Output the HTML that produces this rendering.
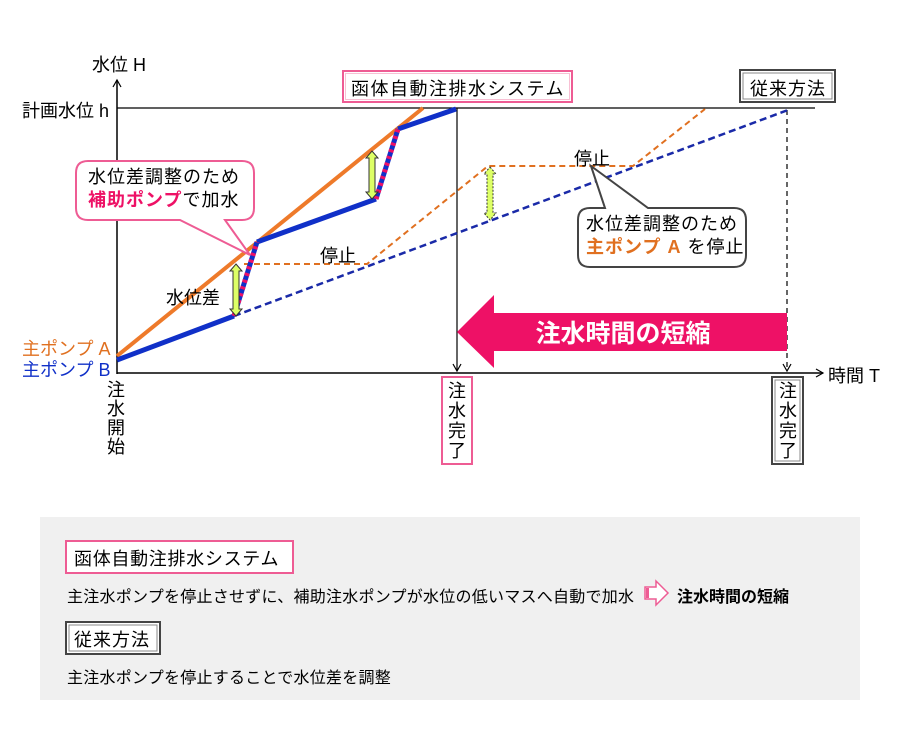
<!DOCTYPE html>
<html><head><meta charset="utf-8"><style>
body{margin:0;width:900px;height:735px;background:#fff;font-family:"Liberation Sans","Noto Sans CJK JP",sans-serif;position:relative;overflow:hidden}
.a{position:absolute;white-space:nowrap;color:#000}
</style></head><body>
<svg width="900" height="735" style="position:absolute;left:0;top:0" font-family="Liberation Sans, Noto Sans CJK JP, sans-serif">
<defs>
<marker id="ar" markerWidth="10" markerHeight="10" refX="8" refY="5" orient="auto" markerUnits="userSpaceOnUse"><path d="M1,1 L8,5 L1,9" fill="none" stroke="#000" stroke-width="1.2"/></marker>
</defs>
<rect x="40" y="517" width="820" height="183" fill="#f0f0f0"/>
<line x1="117" y1="374" x2="117" y2="80" stroke="#000" stroke-width="1.5" marker-end="url(#ar)"/>
<line x1="117" y1="373" x2="823" y2="373" stroke="#000" stroke-width="1.5" marker-end="url(#ar)"/>
<line x1="117" y1="108" x2="815" y2="108" stroke="#000" stroke-width="1.2"/>
<line x1="457" y1="108" x2="457" y2="371" stroke="#000" stroke-width="1.2" marker-end="url(#ar)"/>
<line x1="787" y1="110" x2="787" y2="371" stroke="#000" stroke-width="1.2" stroke-dasharray="5,4" marker-end="url(#ar)"/>
<polygon points="457,332 494,295 494,313 787,313 787,351 494,351 494,368" fill="#ee1166"/>
<text x="623" y="342" font-size="25" font-weight="bold" fill="#fff" text-anchor="middle">注水時間の短縮</text>
<polyline points="244,264 367,264 488,166 633,166 705,109" fill="none" stroke="#e07020" stroke-width="2" stroke-dasharray="6,4"/>
<line x1="234" y1="316" x2="788" y2="110" stroke="#1a2aa8" stroke-width="2.5" stroke-dasharray="7,4"/>
<line x1="117" y1="356" x2="423" y2="108" stroke="#ee7a2a" stroke-width="4"/>
<polyline points="117,360 234,316" fill="none" stroke="#1030c8" stroke-width="5"/>
<polyline points="257,242 376,199" fill="none" stroke="#1030c8" stroke-width="5"/>
<polyline points="398,129 456,109" fill="none" stroke="#1030c8" stroke-width="5"/>
<line x1="234" y1="316" x2="257" y2="242" stroke="#1030c8" stroke-width="5"/>
<line x1="234" y1="316" x2="257" y2="242" stroke="#ee1166" stroke-width="5" stroke-dasharray="3,4"/>
<line x1="376" y1="199" x2="398" y2="129" stroke="#1030c8" stroke-width="5"/>
<line x1="376" y1="199" x2="398" y2="129" stroke="#ee1166" stroke-width="5" stroke-dasharray="3,4"/>
<g fill="#ddff66" stroke="#333" stroke-width="1">
<polygon points="236,264 242,271 239,271 239,309 242,309 236,316 230,309 233,309 233,271 230,271"/>
<polygon points="372,151 378,158 375,158 375,192 378,192 372,199 366,192 369,192 369,158 366,158"/>
<polygon points="490,167 496,174 493,174 493,213 496,213 490,220 484,213 487,213 487,174 484,174" stroke-dasharray="2,1.5"/>
</g>
<path d="M88,161 H242 Q254,161 254,173 V208 Q254,220 242,220 H225 L250,255 L180,220 H88 Q76,220 76,208 V173 Q76,161 88,161 Z" fill="#fff" stroke="#ee5c94" stroke-width="2"/>
<path d="M590,208 H605 L591,166 L648,208 H734 Q746,208 746,220 V255 Q746,267 734,267 H590 Q578,267 578,255 V220 Q578,208 590,208 Z" fill="#fff" stroke="#444" stroke-width="2"/>
<rect x="343" y="71" width="229" height="31" fill="#fff" stroke="#ee5c94" stroke-width="2"/>
<rect x="345.5" y="73.5" width="224" height="26" fill="none" stroke="#f8c0d4" stroke-width="1"/>
<rect x="740" y="70" width="95" height="32" fill="#fff" stroke="#444" stroke-width="2"/>
<rect x="743" y="73" width="89" height="26" fill="none" stroke="#888" stroke-width="1"/>
<rect x="442" y="377" width="30" height="87" fill="#fff" stroke="#ee5c94" stroke-width="2"/>
<rect x="772" y="377" width="31" height="87" fill="#fff" stroke="#444" stroke-width="2"/>
<rect x="775" y="380" width="25" height="81" fill="none" stroke="#888" stroke-width="1"/>
<rect x="66" y="541" width="227" height="32" fill="#fff" stroke="#ee5c94" stroke-width="2"/>
<rect x="66" y="622" width="94" height="32" fill="#fff" stroke="#444" stroke-width="2"/>
<rect x="69" y="625" width="88" height="26" fill="none" stroke="#888" stroke-width="1"/>
<polygon points="645,587 656,587 656,581 668,593 656,605 656,599 645,599" fill="#fff" stroke="#ee5c94" stroke-width="1.5"/>
<rect x="646" y="588" width="3" height="10" fill="#ee5c94"/>
</svg>
<div class="a" style="left:92px;top:51px;font-size:18px">水位 H</div>
<div class="a" style="left:22px;top:97px;font-size:18px">計画水位 h</div>
<div class="a" style="left:22px;top:335px;font-size:18px;color:#e07020">主ポンプ A</div>
<div class="a" style="left:22px;top:356px;font-size:18px;color:#1030c8">主ポンプ B</div>
<div class="a" style="left:107px;top:381px;font-size:18px;line-height:19px;width:18px;white-space:normal">注水開始</div>
<div class="a" style="left:351px;top:75px;font-size:18px;letter-spacing:1.5px">函体自動注排水システム</div>
<div class="a" style="left:750px;top:75px;font-size:18px;letter-spacing:1px">従来方法</div>
<div class="a" style="left:448px;top:381px;font-size:18px;line-height:20px;width:18px;white-space:normal">注水完了</div>
<div class="a" style="left:779px;top:381px;font-size:18px;line-height:20px;width:18px;white-space:normal">注水完了</div>
<div class="a" style="left:828px;top:362px;font-size:18px">時間 T</div>
<div class="a" style="left:88px;top:166px;font-size:18px;line-height:23px;letter-spacing:1px">水位差調整のため<br><b style="color:#ee1166">補助ポンプ</b>で加水</div>
<div class="a" style="left:586px;top:213px;font-size:18px;line-height:23px;letter-spacing:1px">水位差調整のため<br><b style="color:#e07020">主ポンプ A</b> を停止</div>
<div class="a" style="left:320px;top:242px;font-size:18px">停止</div>
<div class="a" style="left:574px;top:145px;font-size:18px">停止</div>
<div class="a" style="left:166px;top:284px;font-size:18px">水位差</div>
<div class="a" style="left:74px;top:545px;font-size:18px;letter-spacing:0.7px">函体自動注排水システム</div>
<div class="a" style="left:67px;top:583px;font-size:16px;letter-spacing:0.25px">主注水ポンプを停止させずに、補助注水ポンプが水位の低いマスへ自動で加水</div>
<div class="a" style="left:677px;top:583px;font-size:16px;font-weight:bold">注水時間の短縮</div>
<div class="a" style="left:74px;top:626px;font-size:18px;letter-spacing:1px">従来方法</div>
<div class="a" style="left:67px;top:664px;font-size:16px;letter-spacing:0.25px">主注水ポンプを停止することで水位差を調整</div>
</body></html>
